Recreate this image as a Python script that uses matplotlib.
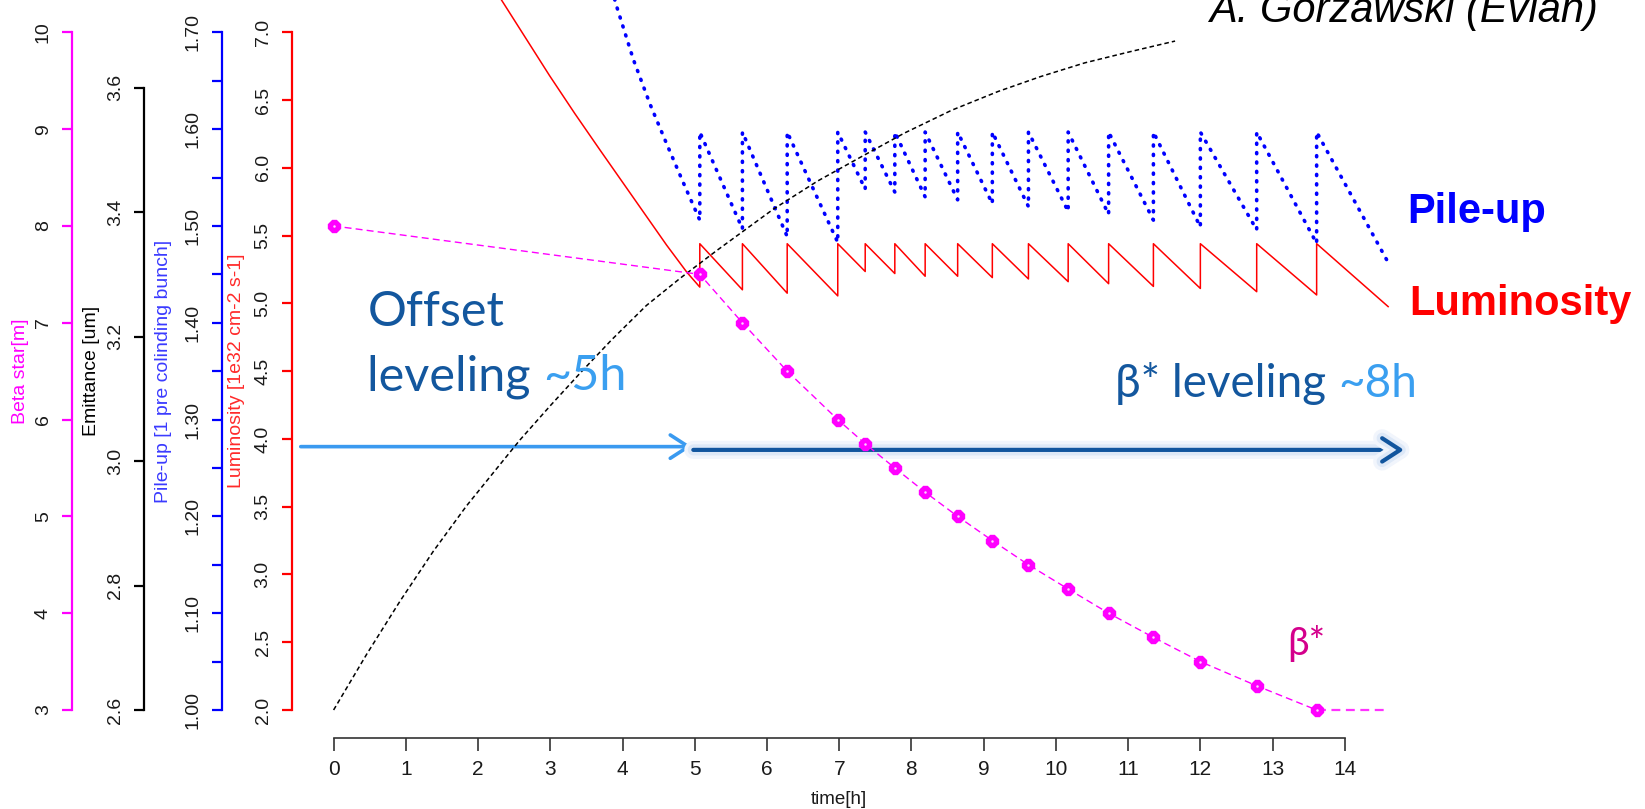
import matplotlib
matplotlib.use("Agg")
import matplotlib.pyplot as plt
import matplotlib.patheffects as pe

plt.rcParams["font.family"] = ["Liberation Sans", "DejaVu Sans"]
CAL = ["Lato", "Open Sans", "DejaVu Sans"]

W, H, DPI = 1645, 809, 100

# ---- values (time in hours) ----
reset_t = [5.07, 5.66, 6.28, 6.98, 7.36, 7.77, 8.19, 8.64, 9.12, 9.62,
           10.17, 10.73, 11.35, 12.00, 12.78, 13.61]

# luminosity [1e32 cm-2 s-1]
lumi_pre_t = [2.25, 2.37, 2.68, 2.99, 3.34, 3.69, 3.92, 4.15, 4.38, 4.61, 4.75, 4.89]
lumi_pre = [7.30, 7.20, 6.94, 6.68, 6.40, 6.13, 5.955, 5.78, 5.605, 5.43, 5.33, 5.23]
lumi_low = [5.12, 5.10, 5.075, 5.055, 5.235, 5.22, 5.20, 5.20, 5.19, 5.18,
            5.16, 5.145, 5.125, 5.11, 5.086, 5.062]
lumi_peak = [5.44] * 16
lumi_end_t, lumi_end = 14.60, 4.976

# pile-up
pu_pre_t = [3.85, 3.92, 4.15, 4.38, 4.61, 4.84]
pu_pre = [1.745, 1.7265, 1.672, 1.626, 1.585, 1.545]
pu_low = [1.506, 1.497, 1.489, 1.483, 1.538, 1.535, 1.530, 1.527, 1.523, 1.520,
          1.515, 1.512, 1.506, 1.499, 1.496, 1.482]
pu_peak = [1.597] * 16
pu_end_t, pu_end = 14.58, 1.465

# emittance [um]
em_t = [0, 0.46, 0.92, 1.38, 1.84, 2.30, 2.58, 3.00, 3.41, 3.85, 4.33, 4.80,
        5.30, 6.09, 6.70, 7.32, 7.90, 8.56, 9.20, 9.79, 10.40, 11.03, 11.65]
em = [2.60, 2.69, 2.775, 2.855, 2.928, 2.994, 3.034, 3.089, 3.141, 3.195, 3.250,
      3.294, 3.338, 3.405, 3.450, 3.490, 3.527, 3.564, 3.594, 3.618, 3.640, 3.658,
      3.675]

# beta star [m]
beta_t = [0] + reset_t
beta = [8.0, 7.5, 7.0, 6.5, 6.0, 5.75, 5.5, 5.25, 5.0, 4.75, 4.5, 4.25, 4.0,
        3.75, 3.5, 3.25, 3.0]
beta_tail_t = [13.61, 14.60]
beta_tail = [3.0, 3.0]

time_ticks = list(range(0, 15))
lumi_ticks = [2.0, 2.5, 3.0, 3.5, 4.0, 4.5, 5.0, 5.5, 6.0, 6.5, 7.0]
pu_ticks = [1.00, 1.10, 1.20, 1.30, 1.40, 1.50, 1.60, 1.70]
pu_minor = [1.05, 1.15, 1.25, 1.35, 1.45, 1.55, 1.65]
em_ticks = [2.6, 2.8, 3.0, 3.2, 3.4, 3.6]
beta_ticks = [3, 4, 5, 6, 7, 8, 9, 10]


def sawtooth(pre_t, pre_v, low, peak, t_end, v_end):
    xs = list(pre_t) + [reset_t[0]]
    ys = list(pre_v) + [low[0]]
    for k, t in enumerate(reset_t):
        xs.append(t); ys.append(peak[k])
        if k + 1 < len(reset_t):
            xs.append(reset_t[k + 1]); ys.append(low[k + 1])
    xs.append(t_end); ys.append(v_end)
    return xs, ys


def left_axis(a, color, offset, bounds, ylim, major, fmt, minor=None):
    for s in a.spines.values():
        s.set_visible(False)
    sp = a.spines["left"]
    sp.set_visible(True)
    sp.set_position(("outward", offset))
    sp.set_bounds(*bounds)
    sp.set_color(color)
    sp.set_linewidth(1.6)
    a.yaxis.set_ticks_position("left")
    a.set_ylim(*ylim)
    a.set_yticks(major)
    a.set_yticklabels([fmt.format(v) for v in major])
    if minor:
        a.set_yticks(minor, minor=True)
    a.tick_params(axis="y", which="both", color=color, length=7.5, width=1.6,
                  labelcolor="#1a1a1a", labelsize=14, pad=7, labelrotation=90)
    for lbl in a.get_yticklabels():
        lbl.set_va("center")


fig = plt.figure(figsize=(W / DPI, H / DPI), dpi=DPI)
x0_px, y0_px = 291.7, 710.0          # luminosity spine / y=2.0 level
ax = fig.add_axes([x0_px / W, (H - y0_px) / H, 1 - x0_px / W, y0_px / H])
ax.set_xlim(-0.580, 18.156)

ax_pu = ax.twinx()
ax_em = ax.twinx()
ax_b = ax.twinx()

left_axis(ax, "#ff0000", 0, (2.0, 7.0), (2.0, 7.238), lumi_ticks, "{:.1f}")
left_axis(ax_pu, "#0000ff", 50.4, (1.0, 1.7), (1.0, 1.7334), pu_ticks, "{:.2f}", pu_minor)
left_axis(ax_em, "#000000", 106.3, (2.6, 3.6), (2.6, 3.741), em_ticks, "{:.1f}")
left_axis(ax_b, "#ff00ff", 158.2, (3, 10), (3.0, 10.334), beta_ticks, "{:d}")

# time axis
bs = ax.spines["bottom"]
bs.set_visible(True)
bs.set_position(("outward", 19.9))
bs.set_bounds(0, 14)
bs.set_color("#333333")
bs.set_linewidth(1.2)
ax.set_xticks(time_ticks)
ax.tick_params(axis="x", length=9.4, width=1.2, color="#333333", labelsize=15,
               pad=7, labelcolor="#1a1a1a")

# curves
lx, ly = sawtooth(lumi_pre_t, lumi_pre, lumi_low, lumi_peak, lumi_end_t, lumi_end)
ax.plot(lx, ly, color="#ff0000", lw=1.1, clip_on=False, zorder=3)
px, py = sawtooth(pu_pre_t, pu_pre, pu_low, pu_peak, pu_end_t, pu_end)
ax_pu.plot(px, py, color="#0000ff", lw=2.6, ls=(0, (0.3, 2.3)), clip_on=False,
           dash_capstyle="round")
ax_em.plot(em_t, em, color="black", lw=1.1, ls=(0, (3, 2)), clip_on=False)
ax_b.plot(beta_t, beta, color="#ff00ff", lw=1.0, ls=(0, (5, 3)), clip_on=False)
ax_b.plot(beta_tail_t, beta_tail, color="#ff33ff", lw=1.6, ls=(0, (4, 2.5)), clip_on=False)
ax_b.plot(beta_t, beta, ls="none", marker="8", ms=9, mfc="#ff00ff", mec="#ff00ff",
          clip_on=False)
ax_b.plot(beta_t, beta, ls="none", marker="o", ms=1.8, mfc="#ffd0ff", mec="none",
          clip_on=False)

# leveling arrows
a1 = ax.annotate("", xy=(4.957, 3.943), xytext=(-0.455, 3.943),
                 arrowprops=dict(arrowstyle="->,head_length=0.65,head_width=0.42",
                                 color="#3a9af0", lw=2.6, shrinkA=0, shrinkB=0,
                                 mutation_scale=20))
a1.arrow_patch.set_clip_on(False)
a2 = ax.annotate("", xy=(14.82, 3.919), xytext=(4.98, 3.919),
                 arrowprops=dict(arrowstyle="->,head_length=0.65,head_width=0.42",
                                 color="#11559e", lw=3.0, shrinkA=0, shrinkB=0,
                                 mutation_scale=20))
a2.arrow_patch.set_path_effects([pe.Stroke(linewidth=13, foreground="#f1f5fc"),
                                 pe.Stroke(linewidth=8, foreground="#dde8f7"),
                                 pe.Normal()])

# axis titles
ylab_y = (H - 371) / H
fig.text(20.5 / W, ylab_y, "Beta star[m]", rotation=90, ha="center", va="center",
         fontsize=14, color="#ff00ff")
fig.text(91 / W, ylab_y, "Emittance [um]", rotation=90, ha="center", va="center",
         fontsize=14, color="black")
fig.text(164 / W, ylab_y, "Pile-up [1 pre colinding bunch]", rotation=90, ha="center",
         va="center", fontsize=14, color="#3a3aff")
fig.text(236 / W, ylab_y, "Luminosity [1e32 cm-2 s-1]", rotation=90, ha="center",
         va="center", fontsize=14, color="#ff2a2a")
fig.text(839 / W, (H - 799) / H, "time[h]", ha="center", va="center", fontsize=13.5,
         color="#1a1a1a")

# annotations
fig.text(1209.5 / W, 1 - 21.7 / H, "A. Gorzawski (Evian)", fontsize=30, style="italic",
         ha="left", va="baseline")
fig.text(1407.6 / W, 1 - 222.7 / H, "Pile-up", fontsize=30, weight="bold",
         color="#0000ff", ha="left", va="baseline")
fig.text(1409.4 / W, 1 - 315 / H, "Luminosity", fontsize=30, weight="bold",
         color="#ff0000", ha="left", va="baseline")


def two_tone(x_px, base_px, a, b, ca, cb, size):
    t1 = fig.text(x_px / W, 1 - base_px / H, a, color=ca, fontsize=size, family=CAL,
                  ha="left", va="baseline")
    fig.canvas.draw()
    x1 = t1.get_window_extent().x1
    fig.text(x1 / W, 1 - base_px / H, b, color=cb, fontsize=size, family=CAL,
             ha="left", va="baseline")


DARK, LIGHT = "#13579e", "#3a9ff0"
fig.text(367.3 / W, 1 - 326 / H, "Offset", color=DARK, fontsize=35, family=CAL,
         ha="left", va="baseline")
two_tone(367.3, 390, "leveling ", "~5h", DARK, LIGHT, 35)
two_tone(1115, 396.7, "β* leveling ", "~8h", DARK, LIGHT, 33)
fig.text(1287.3 / W, 1 - 655 / H, "β*", color="#d4008c", fontsize=28, family=CAL,
         ha="left", va="baseline")

fig.savefig("out.png", dpi=DPI)
